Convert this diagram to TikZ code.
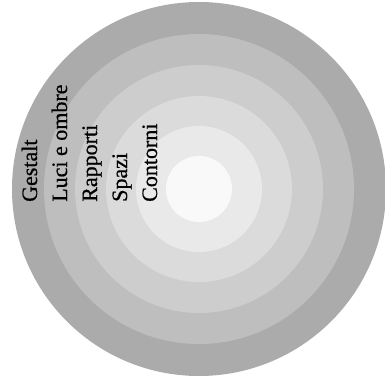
\documentclass[tikz,border=0pt]{standalone}
\usepackage{fontspec}
\setmainfont{Liberation Serif}
\newfontfamily\labfont[FakeBold=0.6]{Liberation Serif}
\definecolor{g1}{gray}{0.67}
\definecolor{g2}{gray}{0.745}
\definecolor{g3}{gray}{0.805}
\definecolor{g4}{gray}{0.86}
\definecolor{g5}{gray}{0.915}
\definecolor{g6}{gray}{0.975}
\begin{document}
\begin{tikzpicture}[x=1pt,y=-1pt,
  lab/.style={rotate=90,anchor=base west,inner sep=0pt,font=\labfont\fontsize{22}{22}\selectfont,text=black}]
\useasboundingbox (0,0) rectangle (385,385);
\fill[white] (0,0) rectangle (385,385);
\coordinate (c) at (199,189);
\fill[g1] (c) circle[radius=187];
\fill[g2] (c) circle[radius=155];
\fill[g3] (c) circle[radius=124];
\fill[g4] (c) circle[radius=93];
\fill[g5] (c) circle[radius=63];
\fill[g6] (c) circle[radius=33];
\node[lab] (gestalt) at (37,202) {Gestalt};
\node[lab] (luci) at (67,202) {Luci e ombre};
\node[lab] (rapporti) at (97,202) {Rapporti};
\node[lab] (spazi) at (127,202) {Spazi};
\node[lab] (contorni) at (157,202) {Contorni};
\end{tikzpicture}
\end{document}
